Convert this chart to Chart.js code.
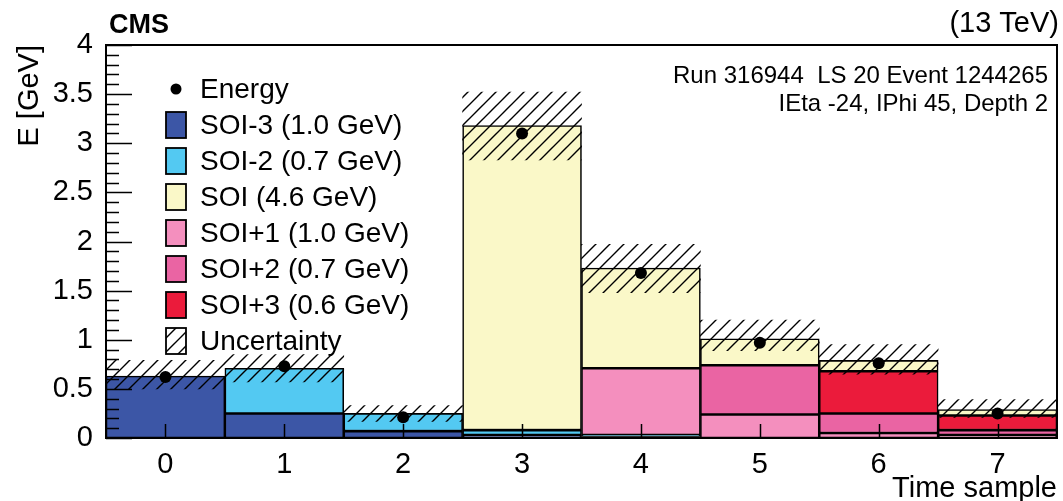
<!DOCTYPE html>
<html>
<head>
<meta charset="utf-8">
<script src="https://cdn.jsdelivr.net/npm/chart.js@4.4.1/dist/chart.umd.min.js"></script>
<style>
    html, body { margin: 0; padding: 0; background: #ffffff; }
    #wrap { width: 1063px; height: 501px; }
</style>
</head>
<body>
<div id="wrap"><canvas id="pulseChart" width="1063" height="501"></canvas></div>
<script>
const FONT = "'Liberation Sans', Arial, Helvetica, sans-serif";

// time samples on the x axis
const TIME_SAMPLES = ['0', '1', '2', '3', '4', '5', '6', '7'];

// fitted pulse components per time sample [GeV], null = empty
const SOI_M3 = [0.63, 0.25, 0.07, 0.03, 0.015, null, null, null];
const SOI_M2 = [null, 0.46, 0.18, 0.05, 0.015, null, null, null];
const SOI_P1 = [null, null, null, null, 0.68, 0.24, 0.05, 0.03];
const SOI_P2 = [null, null, null, null, null, 0.50, 0.20, 0.05];
const SOI_P3 = [null, null, null, null, null, null, 0.43, 0.15];
const SOI_0 = [null, null, null, 3.10, 1.02, 0.27, 0.11, 0.06];

// measured energy and uncertainty band
const ENERGY = [0.62, 0.73, 0.21, 3.10, 1.68, 0.97, 0.76, 0.25];
const UNC_LOW = [0.50, 0.57, 0.17, 2.83, 1.48, 0.89, 0.65, 0.21];
const UNC_HIGH = [0.79, 0.85, 0.33, 3.52, 1.97, 1.20, 0.95, 0.39];

const Y_TICKS = [0, 0.5, 1, 1.5, 2, 2.5, 3, 3.5, 4];

const COLORS = {
    m3: '#3c56a6',
    m2: '#53c9f2',
    soi: '#faf8c8',
    p1: '#f48fbe',
    p2: '#ea64a3',
    p3: '#eb1b3b'
};

function makeHatch() {
    const s = 14;
    const c = document.createElement('canvas');
    c.width = s; c.height = s;
    const g = c.getContext('2d');
    g.strokeStyle = '#000';
    g.lineWidth = 1.4;
    g.beginPath();
    g.moveTo(0, s); g.lineTo(s, 0);
    g.moveTo(-s / 2, s / 2); g.lineTo(s / 2, -s / 2);
    g.moveTo(s / 2, s * 1.5); g.lineTo(s * 1.5, s / 2);
    g.stroke();
    return g.createPattern(c, 'repeat');
}
const hatch = makeHatch();

const LEGEND = [
    { text: 'Energy', kind: 'dot' },
    { text: 'SOI-3 (1.0 GeV)', kind: 'box', color: COLORS.m3 },
    { text: 'SOI-2 (0.7 GeV)', kind: 'box', color: COLORS.m2 },
    { text: 'SOI (4.6 GeV)', kind: 'box', color: COLORS.soi },
    { text: 'SOI+1 (1.0 GeV)', kind: 'box', color: COLORS.p1 },
    { text: 'SOI+2 (0.7 GeV)', kind: 'box', color: COLORS.p2 },
    { text: 'SOI+3 (0.6 GeV)', kind: 'box', color: COLORS.p3 },
    { text: 'Uncertainty', kind: 'hatch' }
];

function component(label, data, color) {
    return {
        type: 'bar',
        label,
        data,
        stack: 'pulse',
        grouped: false,
        backgroundColor: color,
        borderColor: '#000',
        borderWidth: 1.6,
        borderSkipped: false,
        barPercentage: 1.0,
        categoryPercentage: 1.0,
        xAxisID: 'x',
        yAxisID: 'y'
    };
}

const decorPlugin = {
    id: 'rootDecor',
    afterDatasetsDraw(chart) {
        const { ctx, chartArea: a, scales: { x, y } } = chart;
        ctx.save();
        ctx.strokeStyle = '#000';
        ctx.lineWidth = 1.5;
        ctx.beginPath();
        for (let i = 0; i <= 40; i++) {
            const py = Math.round(y.getPixelForValue(i / 10)) + 0.5;
            const len = i % 5 === 0 ? 26 : 13;
            ctx.moveTo(a.left, py);
            ctx.lineTo(a.left + len, py);
        }
        TIME_SAMPLES.forEach((_, i) => {
            const px = Math.round(x.getPixelForValue(i)) + 0.5;
            ctx.moveTo(px, a.bottom);
            ctx.lineTo(px, a.bottom - 14);
        });
        ctx.stroke();

        ctx.lineWidth = 2;
        ctx.strokeRect(a.left, a.top, a.right - a.left, a.bottom - a.top);

        // legend
        ctx.textBaseline = 'middle';
        ctx.textAlign = 'left';
        ctx.font = `28px ${FONT}`;
        LEGEND.forEach((item, i) => {
            const cy = 89 + i * 36;
            if (item.kind === 'dot') {
                ctx.fillStyle = '#000';
                ctx.beginPath();
                ctx.arc(176, cy, 5.5, 0, Math.PI * 2);
                ctx.fill();
            } else {
                ctx.fillStyle = item.kind === 'hatch' ? '#fff' : item.color;
                ctx.fillRect(166, cy - 13, 20, 26);
                if (item.kind === 'hatch') {
                    ctx.fillStyle = hatch;
                    ctx.fillRect(166, cy - 13, 20, 26);
                }
                ctx.lineWidth = 1.8;
                ctx.strokeRect(166, cy - 13, 20, 26);
            }
            ctx.fillStyle = '#000';
            ctx.fillText(item.text, 200, cy + 1);
        });

        // header texts
        ctx.textBaseline = 'alphabetic';
        ctx.font = `bold 27px ${FONT}`;
        ctx.fillText('CMS', 109, 33);
        ctx.textAlign = 'right';
        ctx.font = `29px ${FONT}`;
        ctx.fillText('(13 TeV)', 1059, 32);
        ctx.font = `24px ${FONT}`;
        ctx.fillText('Run 316944  LS 20 Event 1244265', 1048, 83);
        ctx.fillText('IEta -24, IPhi 45, Depth 2', 1048, 111);
        ctx.restore();
    }
};

new Chart(document.getElementById('pulseChart'), {
    data: {
        labels: TIME_SAMPLES,
        datasets: [
            {
                type: 'line',
                label: 'Energy',
                data: ENERGY,
                showLine: false,
                pointRadius: 6,
                pointBackgroundColor: '#000',
                pointBorderWidth: 0,
                xAxisID: 'x',
                yAxisID: 'y2'
            },
            {
                type: 'bar',
                label: 'Uncertainty',
                data: UNC_LOW.map((lo, i) => [lo, UNC_HIGH[i]]),
                stack: 'unc',
                backgroundColor: hatch,
                borderWidth: 0,
                grouped: false,
                barPercentage: 1.0,
                categoryPercentage: 1.0,
                xAxisID: 'x2',
                yAxisID: 'y2'
            },
            component('SOI-3', SOI_M3, COLORS.m3),
            component('SOI-2', SOI_M2, COLORS.m2),
            component('SOI+1', SOI_P1, COLORS.p1),
            component('SOI+2', SOI_P2, COLORS.p2),
            component('SOI+3', SOI_P3, COLORS.p3),
            component('SOI', SOI_0, COLORS.soi)
        ]
    },
    options: {
        responsive: false,
        animation: false,
        events: [],
        layout: { padding: { top: 45, right: 4, left: 0, bottom: 0 } },
        plugins: {
            legend: { display: false },
            tooltip: { enabled: false }
        },
        scales: {
            x: {
                type: 'category',
                stacked: true,
                offset: true,
                grid: { display: false, drawTicks: false },
                border: { display: false },
                ticks: { color: '#000', padding: 10, font: { family: FONT, size: 29 } },
                title: {
                    display: true,
                    text: 'Time sample',
                    align: 'end',
                    color: '#000',
                    padding: { top: 0, bottom: -5 },
                    font: { family: FONT, size: 29 }
                },
                afterFit: s => { s.height = 63; }
            },
            x2: {
                type: 'category',
                offset: true,
                display: false
            },
            y: {
                stacked: true,
                min: 0,
                max: 4,
                grid: { display: false, drawTicks: false },
                border: { display: false },
                afterBuildTicks: s => { s.ticks = Y_TICKS.map(v => ({ value: v })); },
                ticks: {
                    color: '#000',
                    padding: 13,
                    font: { family: FONT, size: 29 },
                    callback: v => String(+v)
                },
                title: {
                    display: true,
                    text: 'E [GeV]',
                    align: 'end',
                    color: '#000',
                    padding: { top: 13, bottom: 0 },
                    font: { family: FONT, size: 29 }
                },
                afterFit: s => { s.width = 106; }
            },
            y2: {
                min: 0,
                max: 4,
                display: false
            }
        }
    },
    plugins: [decorPlugin]
});
</script>
</body>
</html>
